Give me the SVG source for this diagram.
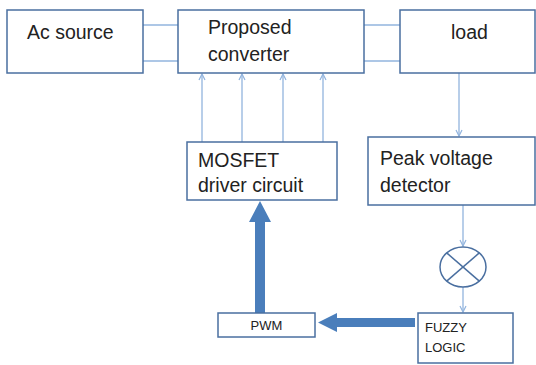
<svg xmlns="http://www.w3.org/2000/svg" width="536" height="365" viewBox="0 0 536 365">
<defs>
<style>
.box{fill:#fff;stroke:#4a6fa0;stroke-width:1.5}
.t{font-family:"Liberation Sans",Arial,sans-serif;font-size:19.5px;fill:#222}
.s{font-family:"Liberation Sans",Arial,sans-serif;font-size:13px;fill:#222}
.ln{stroke:#92b4de;stroke-width:1.3;fill:none}
.thick{fill:#4a7ebb}
</style>
<marker id="ah" markerWidth="8" markerHeight="8" refX="7" refY="4" orient="auto" markerUnits="userSpaceOnUse">
<path d="M1,1 L7,4 L1,7" fill="none" stroke="#92b4de" stroke-width="1.2"/>
</marker>
</defs>
<rect width="536" height="365" fill="#fff"/>
<g id="connectors">
<line class="ln" x1="143" y1="25" x2="178" y2="25"/>
<line class="ln" x1="143" y1="61" x2="178" y2="61"/>
<line class="ln" x1="364" y1="25" x2="400" y2="25"/>
<line class="ln" x1="364" y1="61" x2="400" y2="61"/>
<line class="ln" x1="459" y1="73" x2="459" y2="136" marker-end="url(#ah)"/>
<line class="ln" x1="202" y1="142" x2="202" y2="74" marker-end="url(#ah)"/>
<line class="ln" x1="242" y1="142" x2="242" y2="74" marker-end="url(#ah)"/>
<line class="ln" x1="283" y1="142" x2="283" y2="74" marker-end="url(#ah)"/>
<line class="ln" x1="323" y1="142" x2="323" y2="74" marker-end="url(#ah)"/>
<line class="ln" x1="463" y1="205" x2="463" y2="246" marker-end="url(#ah)"/>
<line class="ln" x1="463" y1="287" x2="463" y2="312" marker-end="url(#ah)"/>
<path class="thick" d="M255,313 L255,222 L249,222 L260,201 L271,222 L265,222 L265,313 Z"/>
<path class="thick" d="M415,318 L337,318 L337,313 L318,322.5 L337,332 L337,327 L415,327 Z"/>
</g>
<g id="ac-source">
<rect class="box" x="7" y="10" width="136" height="63"/>
<text class="t" x="27" y="39">Ac source</text>
</g>
<g id="proposed-converter">
<rect class="box" x="178" y="10" width="186" height="63"/>
<text class="t" x="208" y="34">Proposed</text>
<text class="t" x="208" y="61">converter</text>
</g>
<g id="load">
<rect class="box" x="400" y="10" width="135" height="63"/>
<text class="t" x="451" y="39">load</text>
</g>
<g id="peak-voltage-detector">
<rect class="box" x="368" y="137" width="167" height="68"/>
<text class="t" x="380" y="165">Peak voltage</text>
<text class="t" x="380" y="192">detector</text>
</g>
<g id="mosfet-driver">
<rect class="box" x="187" y="142" width="150" height="58"/>
<text class="t" x="198" y="167">MOSFET</text>
<text class="t" x="198" y="192">driver circuit</text>
</g>
<g id="summing-junction">
<ellipse cx="463" cy="267" rx="23" ry="20" fill="#fff" stroke="#4a6fa0" stroke-width="1.5"/>
<line x1="446.7" y1="252.9" x2="479.3" y2="281.1" stroke="#4a6fa0" stroke-width="1.5"/>
<line x1="479.3" y1="252.9" x2="446.7" y2="281.1" stroke="#4a6fa0" stroke-width="1.5"/>
</g>
<g id="pwm">
<rect class="box" x="218" y="313" width="97" height="24"/>
<text class="s" x="266.5" y="330" text-anchor="middle">PWM</text>
</g>
<g id="fuzzy-logic">
<rect class="box" x="418" y="313" width="95" height="50"/>
<text class="s" x="425" y="332">FUZZY</text>
<text class="s" x="425" y="352">LOGIC</text>
</g>
</svg>
